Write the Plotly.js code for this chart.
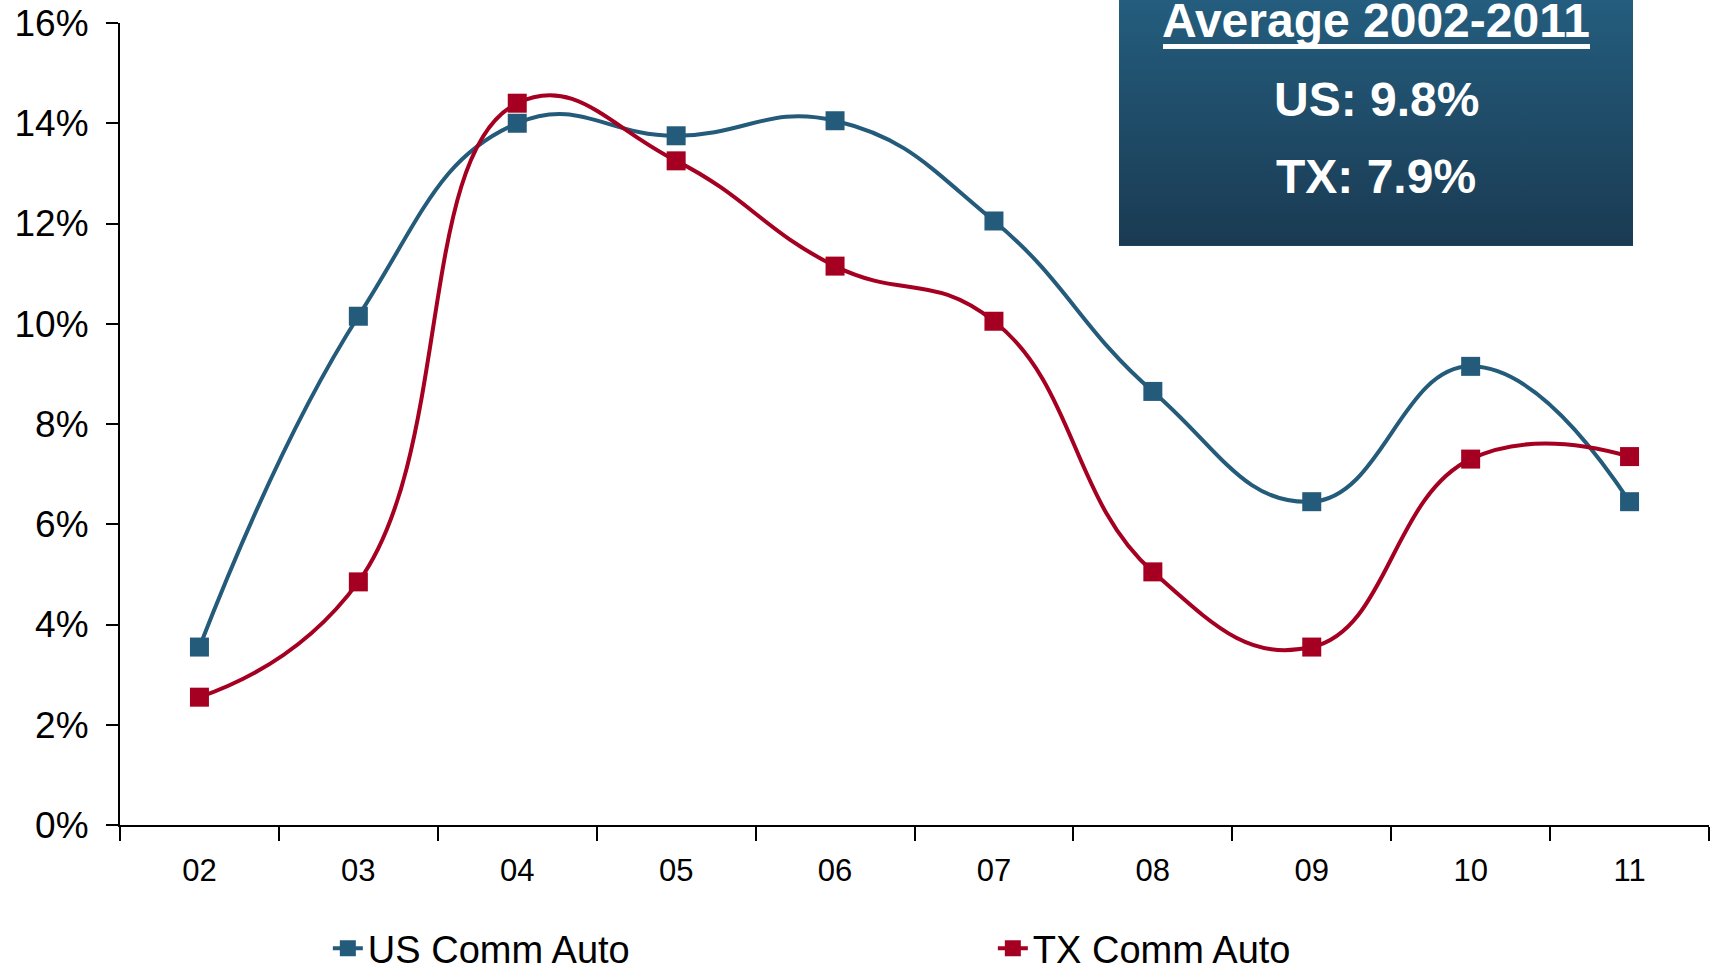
<!DOCTYPE html>
<html>
<head>
<meta charset="utf-8">
<script src="https://cdn.plot.ly/plotly-3.0.1.min.js"></script>
<style>
html, body { margin: 0; padding: 0; background: #ffffff; }
#chart { width: 1715px; height: 969px; }
</style>
</head>
<body>
<div id="chart"></div>
<script>
// ---- data ----
var years = ["02", "03", "04", "05", "06", "07", "08", "09", "10", "11"];
var usCommAuto = [3.55, 10.15, 14.0, 13.75, 14.05, 12.05, 8.65, 6.45, 9.15, 6.45];
var txCommAuto = [2.55, 4.85, 14.4, 13.25, 11.15, 10.05, 5.05, 3.55, 7.3, 7.35];
var yTickVals = [0, 2, 4, 6, 8, 10, 12, 14, 16];
var yTickText = ["0%", "2%", "4%", "6%", "8%", "10%", "12%", "14%", "16%"];
var seriesNames = ["US Comm Auto", "TX Comm Auto"];
var boxTitle = "Average 2002-2011";
var boxLines = ["US: 9.8%", "TX: 7.9%"];

var blue = "#245B7B";
var red = "#A50021";

var traces = [
  {
    x: years, y: usCommAuto, name: seriesNames[0], type: "scatter", mode: "lines+markers",
    line: { color: blue, width: 4, shape: "spline", smoothing: 1.3 },
    marker: { symbol: "square", size: 19, color: blue },
    hoverinfo: "skip"
  },
  {
    x: years, y: txCommAuto, name: seriesNames[1], type: "scatter", mode: "lines+markers",
    line: { color: red, width: 4, shape: "spline", smoothing: 1.3 },
    marker: { symbol: "square", size: 19, color: red },
    hoverinfo: "skip"
  }
];

var gradSvg = '<svg xmlns="http://www.w3.org/2000/svg" width="100" height="100" preserveAspectRatio="none">' +
  '<defs><linearGradient id="g" x1="0" y1="0" x2="0" y2="1">' +
  '<stop offset="0" stop-color="#245D7E"/><stop offset="1" stop-color="#1A3A52"/>' +
  '</linearGradient></defs><rect width="100" height="100" fill="url(#g)"/></svg>';
var gradUri = "data:image/svg+xml;charset=utf-8," + encodeURIComponent(gradSvg);

var boxFont = { family: "Liberation Sans, Arial, sans-serif", size: 48, color: "#ffffff", weight: "bold" };

var layout = {
  width: 1715, height: 969,
  margin: { l: 120, r: 6, t: 23, b: 144, autoexpand: false },
  paper_bgcolor: "#ffffff", plot_bgcolor: "#ffffff",
  font: { family: "Liberation Sans, Arial, sans-serif", color: "#000000" },
  showlegend: true,
  legend: {
    orientation: "h", x: 0.1308, xanchor: "left", y: -0.154, yanchor: "middle",
    entrywidth: 620, entrywidthmode: "pixels",
    font: { family: "Liberation Sans, Arial, sans-serif", size: 38, color: "#000000" },
    bgcolor: "rgba(0,0,0,0)"
  },
  xaxis: {
    type: "category", range: [-0.5, 9.5], showgrid: false, zeroline: false, automargin: false,
    showline: true, linecolor: "#000000", linewidth: 2,
    ticks: "outside", tickson: "boundaries", ticklen: 14, tickwidth: 2, tickcolor: "#000000",
    tickfont: { size: 31, color: "#000000" }, ticklabelstandoff: 17, fixedrange: true
  },
  yaxis: {
    range: [0, 16], tickvals: yTickVals, ticktext: yTickText, showgrid: false, zeroline: false, automargin: false,
    showline: true, linecolor: "#000000", linewidth: 2,
    ticks: "outside", ticklen: 12, tickwidth: 2, tickcolor: "#000000",
    tickfont: { size: 37, color: "#000000" }, ticklabelstandoff: 10, fixedrange: true
  },
  images: [{
    source: gradUri, xref: "paper", yref: "paper",
    x: 0.6287, y: 1.0287, sizex: 0.3235, sizey: 0.3067,
    xanchor: "left", yanchor: "top", sizing: "stretch", layer: "above"
  }],
  shapes: [{
    type: "line", xref: "paper", yref: "paper", layer: "above",
    x0: 0.6564, x1: 0.9251, y0: 0.9707, y1: 0.9707,
    line: { color: "#ffffff", width: 5 }
  }],
  annotations: [
    { xref: "paper", yref: "paper", x: 0.7905, y: 1.0035, xanchor: "center", yanchor: "middle", showarrow: false,
      text: "<b>" + boxTitle + "</b>", font: boxFont },
    { xref: "paper", yref: "paper", x: 0.7905, y: 0.905, xanchor: "center", yanchor: "middle", showarrow: false,
      text: "<b>" + boxLines[0] + "</b>", font: boxFont },
    { xref: "paper", yref: "paper", x: 0.7905, y: 0.808, xanchor: "center", yanchor: "middle", showarrow: false,
      text: "<b>" + boxLines[1] + "</b>", font: boxFont }
  ]
};

Plotly.newPlot("chart", traces, layout, { displayModeBar: false, staticPlot: true });
</script>
</body>
</html>
